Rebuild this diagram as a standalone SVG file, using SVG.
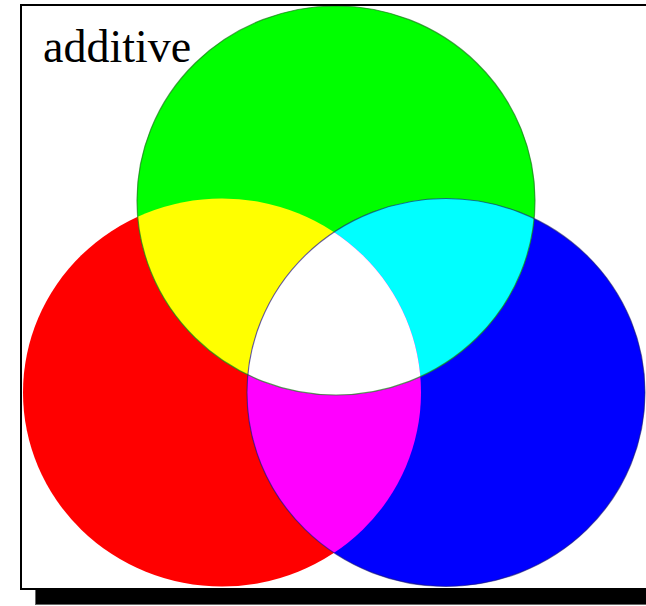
<svg xmlns="http://www.w3.org/2000/svg" width="646" height="606" viewBox="0 0 646 606">
  <style>
    .lbl { font-family: "Liberation Serif", "Times New Roman", serif; font-size: 46px; fill: #000; }
    .edge { fill: none; stroke-width: 1.2; }
  </style>
  <defs>
    <clipPath id="clipRed"><ellipse cx="222" cy="392.5" rx="199" ry="194"/></clipPath>
    <clipPath id="clipBlue"><ellipse cx="446" cy="392.5" rx="199" ry="194"/></clipPath>
    <clipPath id="clipGreen"><ellipse cx="336" cy="200.5" rx="199" ry="194.5"/></clipPath>
  </defs>
  <rect x="0" y="0" width="646" height="606" fill="#ffffff"/>
  <g id="red">
    <ellipse cx="222" cy="392.5" rx="199" ry="194" fill="#ff0000"/>
  </g>
  <g id="blue">
    <ellipse cx="446" cy="392.5" rx="199" ry="194" fill="#0000ff"/>
  </g>
  <g id="green">
    <ellipse cx="336" cy="200.5" rx="199" ry="194.5" fill="#00ff00"/>
  </g>
  <g id="yellow">
    <ellipse cx="336" cy="200.5" rx="199" ry="194.5" fill="#ffff00" clip-path="url(#clipRed)"/>
  </g>
  <g id="cyan">
    <ellipse cx="336" cy="200.5" rx="199" ry="194.5" fill="#00ffff" clip-path="url(#clipBlue)"/>
  </g>
  <g id="magenta">
    <ellipse cx="222" cy="392.5" rx="199" ry="194" fill="#ff00ff" clip-path="url(#clipBlue)"/>
  </g>
  <g id="white" clip-path="url(#clipGreen)">
    <ellipse cx="222" cy="392.5" rx="199" ry="194" fill="#ffffff" clip-path="url(#clipBlue)"/>
  </g>
  <g id="connectors">
    <ellipse class="edge" cx="336" cy="200.5" rx="199" ry="194.5" stroke="#1a7a1a" stroke-opacity="0.7"/>
    <ellipse class="edge" cx="446" cy="392.5" rx="199" ry="194" stroke="#1a1a6a" stroke-opacity="0.6"/>
  </g>
  <g id="frame">
    <rect x="35.5" y="589" width="620" height="15.5" fill="#000000" stroke="#666666" stroke-width="1"/>
    <rect x="21" y="5" width="640" height="584" fill="none" stroke="#000000" stroke-width="2"/>
  </g>
  <g id="label">
    <text class="lbl" x="43" y="62">additive</text>
  </g>
</svg>
